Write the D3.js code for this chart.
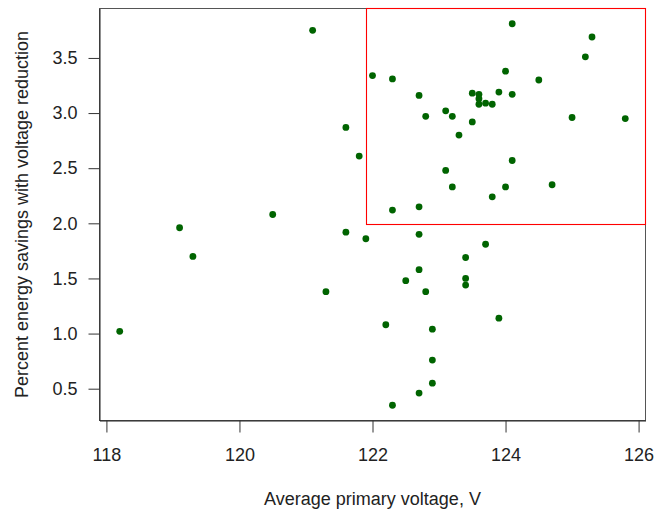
<!DOCTYPE html>
<html><head><meta charset="utf-8">
<script src="https://cdn.jsdelivr.net/npm/d3@7"></script>
<style>body{margin:0;background:#fff}svg{display:block}text{font-family:"Liberation Sans",Arial,sans-serif;fill:#222}</style>
</head><body><div id="chart"></div>
<script>
const voltage = [118.2,119.1,119.3,120.5,121.1,121.3,121.6,121.6,121.8,121.9,122.0,122.2,122.3,122.3,122.3,122.5,122.7,122.7,122.7,122.7,122.7,122.8,122.8,122.9,122.9,122.9,123.1,123.1,123.2,123.2,123.3,123.4,123.4,123.4,123.5,123.5,123.6,123.6,123.6,123.7,123.7,123.8,123.8,123.9,123.9,124.0,124.0,124.1,124.1,124.1,124.5,124.7,125.0,125.2,125.3,125.8];
const savings = [1.02,1.96,1.70,2.08,3.75,1.38,2.87,1.92,2.61,1.86,3.34,1.08,3.31,2.12,0.35,1.48,3.16,2.15,1.90,1.58,0.46,2.97,1.38,1.04,0.76,0.55,3.02,2.48,2.97,2.33,2.80,1.69,1.50,1.44,3.18,2.92,3.17,3.13,3.08,3.09,1.81,3.08,2.24,3.19,1.14,3.38,2.33,3.81,3.17,2.57,3.30,2.35,2.96,3.51,3.69,2.95];
const xTicks = [118,120,122,124,126];
const yTicks = [0.5,1.0,1.5,2.0,2.5,3.0,3.5];
const regionMin = [121.9, 1.99]; // lower-left corner of highlighted region (x, y)
const xTitle = "Average primary voltage, V";
const yTitle = "Percent energy savings with voltage reduction";

const W = 666, H = 510;
const L = 99.5, R = 645.5, T = 8.5, B = 420.5;
function ext(arr){const [a,b]=d3.extent(arr);const d=(b-a)*0.04;return [a-d,b+d];}
const x = d3.scaleLinear().domain(ext(voltage)).range([L,R]);
const y = d3.scaleLinear().domain(ext(savings)).range([B,T]);

const svg = d3.select("#chart").append("svg").attr("width",W).attr("height",H);

// box
svg.append("rect").attr("x",L).attr("y",T).attr("width",R-L).attr("height",B-T)
  .attr("fill","none").attr("stroke","#555").attr("stroke-width",1);

// points
svg.append("g").selectAll("circle").data(voltage).join("circle")
  .attr("cx",(d,i)=>x(d)).attr("cy",(d,i)=>y(savings[i])).attr("r",3.4)
  .attr("fill","#006400");

// highlighted region (clipped to plot edges)
const xd = x.domain(), yd = y.domain();
const rx0 = Math.round(x(regionMin[0]))+0.5, ry1 = Math.round(y(regionMin[1]))+0.5;
svg.append("rect")
  .attr("x",rx0).attr("y",y(yd[1]))
  .attr("width",x(xd[1])-rx0)
  .attr("height",ry1-y(yd[1]))
  .attr("fill","none").attr("stroke","#ff0000").attr("stroke-width",1.1);

const font = "Liberation Sans, Arial, sans-serif";
// x axis
const xa = svg.append("g").attr("transform",`translate(0,${B})`)
  .call(d3.axisBottom(x).tickValues(xTicks).tickSize(12).tickSizeOuter(0).tickPadding(16).tickFormat(d3.format("d")));
xa.select(".domain").attr("stroke","#222");
xa.selectAll(".tick line").attr("stroke","#333");
xa.selectAll("text").attr("font-size",18).attr("fill","#222").attr("font-family",font);

// y axis
const ya = svg.append("g").attr("transform",`translate(${L},0)`)
  .call(d3.axisLeft(y).tickValues(yTicks).tickSize(11).tickSizeOuter(0).tickPadding(11).tickFormat(d3.format(".1f")));
ya.select(".domain").attr("stroke","#222");
ya.selectAll(".tick line").attr("stroke","#333");
ya.selectAll("text").attr("font-size",18).attr("fill","#222").attr("font-family",font);

// titles
svg.append("text").attr("x",(L+R)/2).attr("y",505).attr("text-anchor","middle")
  .attr("font-size",18).text(xTitle);
svg.append("text").attr("transform",`translate(28,${(T+B)/2}) rotate(-90)`).attr("text-anchor","middle")
  .attr("font-size",18).text(yTitle);
</script></body></html>
